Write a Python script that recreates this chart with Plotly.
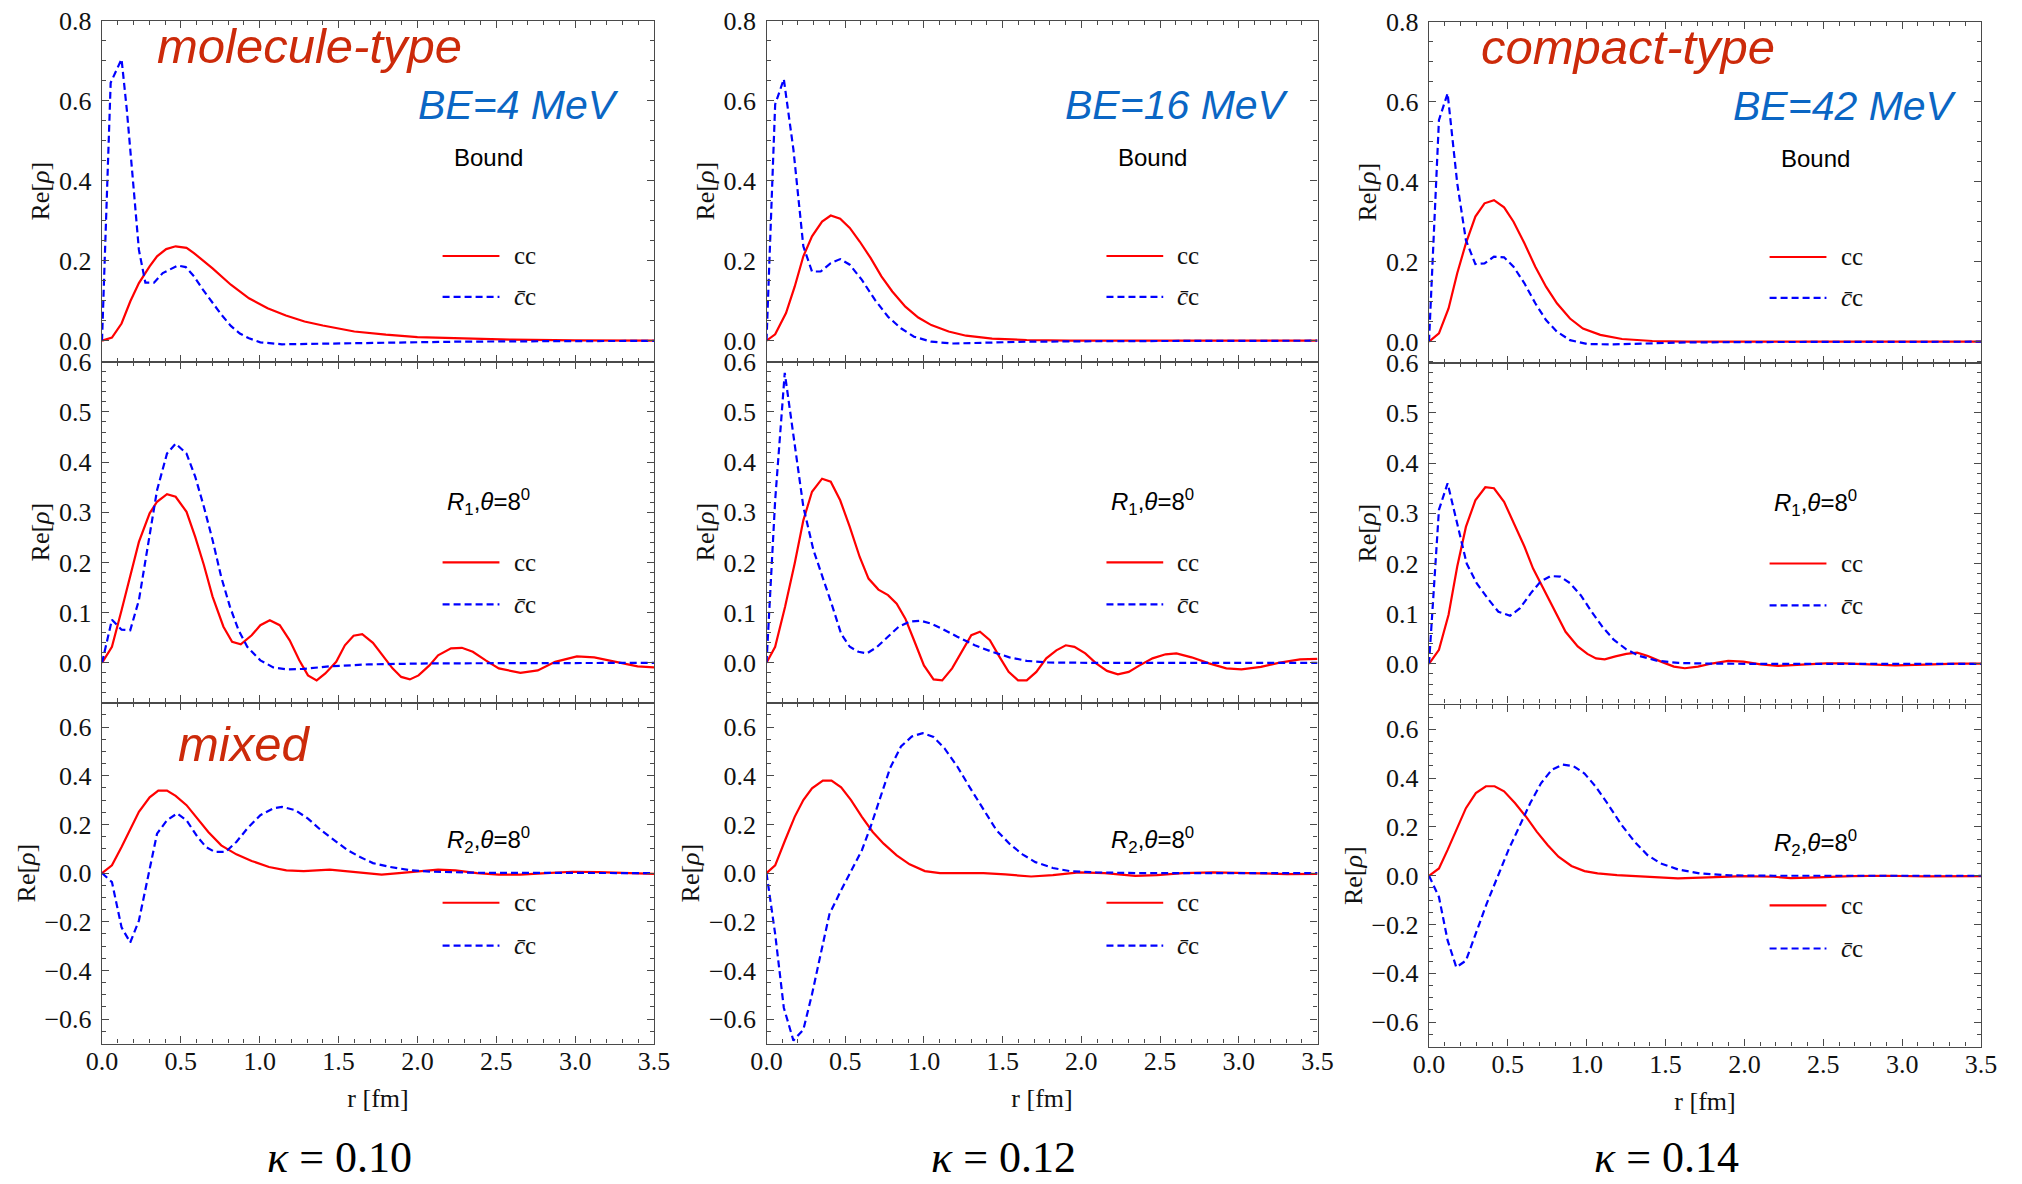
import plotly.graph_objects as go

# ------------------------------------------------------------------
# Data: r [fm] and Re[rho]
# ------------------------------------------------------------------
# kappa = 0.10 -------------------------------------------------------
k10_bound_cc_r = [0, 0.063, 0.124, 0.179, 0.234, 0.302, 0.349, 0.407, 0.467, 0.536, 0.583, 0.701, 0.817,
                  0.932, 1.05, 1.166, 1.284, 1.40, 1.60, 1.80, 2.0, 2.3, 2.6, 3.0, 3.5]
k10_bound_cc = [0, 0.008, 0.043, 0.098, 0.144, 0.186, 0.211, 0.229, 0.236, 0.232, 0.219, 0.181, 0.140,
                0.106, 0.081, 0.063, 0.048, 0.038, 0.023, 0.015, 0.009, 0.005, 0.0025, 0.001, 0.0]
k10_bound_bc_r = [0, 0.055, 0.124, 0.157, 0.192, 0.234, 0.275, 0.330, 0.385, 0.481, 0.531, 0.583, 0.641,
                  0.701, 0.759, 0.817, 0.874, 0.932, 1.004, 1.141, 1.279, 1.50, 1.83, 2.24, 2.93, 3.5]
k10_bound_bc = [0, 0.645, 0.704, 0.579, 0.42, 0.227, 0.145, 0.145, 0.169, 0.188, 0.184, 0.161, 0.127,
                0.094, 0.064, 0.037, 0.018, 0.006, -0.004, -0.009, -0.008, -0.006, -0.004, -0.0025, -0.001, -0.0005]

k10_r1_cc_r = [0, 0.063, 0.124, 0.179, 0.234, 0.302, 0.349, 0.412, 0.467, 0.536, 0.591, 0.646, 0.701,
               0.770, 0.825, 0.880, 0.949, 1.004, 1.064, 1.127, 1.190, 1.251, 1.306, 1.361, 1.416, 1.485,
               1.540, 1.595, 1.650, 1.718, 1.787, 1.842, 1.897, 1.952, 2.007, 2.076, 2.131, 2.213, 2.282,
               2.351, 2.433, 2.516, 2.653, 2.763, 2.873, 3.011, 3.121, 3.258, 3.396, 3.5]
k10_r1_cc = [0, 0.032, 0.105, 0.171, 0.241, 0.298, 0.321, 0.336, 0.331, 0.301, 0.251, 0.195, 0.132,
             0.072, 0.042, 0.037, 0.055, 0.075, 0.085, 0.075, 0.045, 0.005, -0.025, -0.035, -0.021, 0.002,
             0.035, 0.054, 0.057, 0.040, 0.012, -0.011, -0.028, -0.033, -0.025, -0.005, 0.015, 0.029, 0.030,
             0.022, 0.005, -0.011, -0.020, -0.015, 0.002, 0.013, 0.011, 0.002, -0.007, -0.009]
k10_r1_bc_r = [0, 0.063, 0.124, 0.179, 0.234, 0.302, 0.349, 0.412, 0.467, 0.536, 0.591, 0.646, 0.701,
               0.756, 0.811, 0.866, 0.921, 1.004, 1.086, 1.169, 1.279, 1.444, 1.69, 2.10, 3.5]
k10_r1_bc = [0, 0.086, 0.066, 0.065, 0.125, 0.251, 0.344, 0.417, 0.437, 0.417, 0.371, 0.311, 0.245,
             0.171, 0.112, 0.065, 0.032, 0.005, -0.009, -0.013, -0.012, -0.007, -0.003, -0.001, 0]

k10_r2_cc_r = [0, 0.063, 0.124, 0.179, 0.234, 0.302, 0.357, 0.412, 0.467, 0.536, 0.605, 0.674, 0.756,
               0.852, 0.949, 1.059, 1.169, 1.279, 1.444, 1.553, 1.663, 1.773, 1.883, 1.993, 2.131, 2.241,
               2.378, 2.516, 2.653, 2.818, 2.983, 3.148, 3.313, 3.5]
k10_r2_cc = [0, 0.032, 0.107, 0.183, 0.252, 0.311, 0.339, 0.339, 0.317, 0.279, 0.224, 0.169, 0.114,
             0.077, 0.050, 0.025, 0.011, 0.008, 0.014, 0.008, 0.0, -0.006, 0.0, 0.0055, 0.014, 0.011,
             0.0, -0.006, -0.006, 0.0, 0.0055, 0.004, 0.0, -0.003]
k10_r2_bc_r = [0, 0.063, 0.124, 0.179, 0.234, 0.302, 0.349, 0.412, 0.476, 0.536, 0.605, 0.660, 0.715,
               0.784, 0.852, 0.921, 1.004, 1.086, 1.141, 1.224, 1.306, 1.389, 1.471, 1.553, 1.636, 1.718,
               1.828, 1.966, 2.103, 2.378, 3.5]
k10_r2_bc = [0, -0.037, -0.223, -0.285, -0.195, 0.025, 0.162, 0.217, 0.245, 0.217, 0.149, 0.107, 0.087,
             0.087, 0.128, 0.183, 0.238, 0.266, 0.272, 0.259, 0.224, 0.176, 0.135, 0.096, 0.066, 0.041,
             0.025, 0.011, 0.0055, 0.0014, 0]

# kappa = 0.12 -------------------------------------------------------
k12_bound_cc_r = [0, 0.055, 0.124, 0.179, 0.234, 0.289, 0.353, 0.408, 0.468, 0.529, 0.592, 0.661, 0.730,
                  0.799, 0.882, 0.964, 1.047, 1.157, 1.268, 1.433, 1.653, 1.929, 3.5]
k12_bound_cc = [0, 0.016, 0.069, 0.135, 0.211, 0.261, 0.298, 0.313, 0.305, 0.282, 0.248, 0.207, 0.161,
                0.123, 0.085, 0.058, 0.039, 0.023, 0.0125, 0.005, 0.0017, 0, 0]
k12_bound_bc_r = [0, 0.055, 0.110, 0.171, 0.234, 0.289, 0.344, 0.408, 0.468, 0.529, 0.606, 0.689, 0.772,
                  0.854, 0.937, 1.047, 1.185, 1.378, 1.653, 2.204, 3.5]
k12_bound_bc = [0, 0.591, 0.654, 0.478, 0.236, 0.173, 0.173, 0.194, 0.204, 0.190, 0.152, 0.102, 0.060,
                0.031, 0.010, -0.0025, -0.007, -0.005, -0.0025, -0.001, 0]

k12_r1_cc_r = [0, 0.055, 0.118, 0.179, 0.234, 0.289, 0.353, 0.408, 0.468, 0.529, 0.592, 0.648, 0.711,
               0.772, 0.827, 0.882, 0.937, 1.000, 1.061, 1.116, 1.179, 1.240, 1.301, 1.356, 1.419, 1.480,
               1.538, 1.598, 1.653, 1.714, 1.777, 1.841, 1.901, 1.956, 2.025, 2.094, 2.163, 2.232, 2.301,
               2.370, 2.452, 2.535, 2.604, 2.700, 2.811, 2.921, 3.017, 3.141, 3.252, 3.389, 3.5]
k12_r1_cc = [0, 0.032, 0.112, 0.198, 0.284, 0.341, 0.367, 0.361, 0.324, 0.271, 0.211, 0.168, 0.146,
             0.135, 0.118, 0.088, 0.045, -0.005, -0.033, -0.035, -0.011, 0.022, 0.055, 0.062, 0.045, 0.012,
             -0.018, -0.035, -0.035, -0.018, 0.009, 0.025, 0.035, 0.032, 0.019, -0.001, -0.016, -0.023, -0.018,
             -0.005, 0.009, 0.017, 0.019, 0.011, -0.001, -0.011, -0.013, -0.008, 0.0, 0.007, 0.008]
k12_r1_bc_r = [0, 0.055, 0.116, 0.171, 0.234, 0.298, 0.358, 0.413, 0.474, 0.529, 0.584, 0.639, 0.703,
               0.772, 0.840, 0.909, 0.978, 1.047, 1.116, 1.212, 1.323, 1.433, 1.543, 1.653, 1.791, 2.067, 3.5]
k12_r1_bc = [0, 0.324, 0.578, 0.457, 0.311, 0.225, 0.171, 0.118, 0.058, 0.032, 0.022, 0.019, 0.032,
             0.052, 0.072, 0.082, 0.084, 0.078, 0.068, 0.052, 0.035, 0.022, 0.011, 0.004, 0.0007, 0, 0]

k12_r2_cc_r = [0, 0.055, 0.118, 0.179, 0.234, 0.289, 0.358, 0.413, 0.474, 0.537, 0.606, 0.675, 0.744,
               0.827, 0.909, 1.006, 1.102, 1.212, 1.378, 1.516, 1.681, 1.819, 1.984, 2.149, 2.342, 2.480,
               2.645, 2.838, 3.031, 3.307, 3.5]
k12_r2_cc = [0, 0.032, 0.135, 0.231, 0.30, 0.348, 0.380, 0.380, 0.352, 0.30, 0.231, 0.169, 0.121,
             0.073, 0.036, 0.0083, 0, 0, 0, -0.0055, -0.014, -0.008, 0.003, 0, -0.011, -0.008,
             0, 0.003, 0, -0.004, -0.003]
k12_r2_bc_r = [0, 0.055, 0.110, 0.171, 0.234, 0.289, 0.344, 0.400, 0.468, 0.537, 0.606, 0.661, 0.722,
               0.785, 0.854, 0.923, 0.992, 1.061, 1.130, 1.212, 1.295, 1.378, 1.461, 1.543, 1.626, 1.708,
               1.819, 1.929, 2.094, 2.342, 3.5]
k12_r2_bc = [0, -0.250, -0.553, -0.688, -0.643, -0.498, -0.333, -0.168, -0.078, 0.011, 0.094, 0.190, 0.307,
             0.431, 0.520, 0.561, 0.575, 0.559, 0.513, 0.438, 0.348, 0.259, 0.176, 0.121, 0.077, 0.045,
             0.021, 0.008, 0.003, 0, 0]

# kappa = 0.14 -------------------------------------------------------
k14_bound_cc_r = [0, 0.063, 0.124, 0.179, 0.234, 0.294, 0.352, 0.412, 0.476, 0.536, 0.605, 0.674, 0.742,
                  0.811, 0.894, 0.976, 1.086, 1.224, 1.416, 1.636, 3.5]
k14_bound_cc = [0, 0.021, 0.083, 0.171, 0.246, 0.313, 0.346, 0.354, 0.336, 0.30, 0.246, 0.1875, 0.1375,
                0.096, 0.058, 0.033, 0.017, 0.0067, 0.0017, 0, 0]
k14_bound_bc_r = [0, 0.063, 0.118, 0.179, 0.234, 0.294, 0.352, 0.412, 0.476, 0.536, 0.605, 0.674, 0.742,
                  0.811, 0.894, 1.004, 1.169, 1.361, 1.636, 2.186, 3.5]
k14_bound_bc = [0, 0.554, 0.621, 0.396, 0.254, 0.194, 0.196, 0.2125, 0.211, 0.1875, 0.146, 0.096, 0.054,
                0.025, 0.004, -0.006, -0.0067, -0.004, -0.0017, -0.0008, 0]

k14_r1_cc_r = [0, 0.063, 0.124, 0.179, 0.234, 0.294, 0.357, 0.412, 0.476, 0.536, 0.605, 0.660, 0.729,
               0.797, 0.866, 0.943, 1.004, 1.059, 1.114, 1.182, 1.251, 1.320, 1.388, 1.471, 1.553, 1.622,
               1.705, 1.801, 1.897, 1.993, 2.103, 2.213, 2.351, 2.516, 2.626, 2.791, 2.956, 3.148, 3.341, 3.5]
k14_r1_cc = [0, 0.028, 0.098, 0.194, 0.273, 0.326, 0.352, 0.350, 0.323, 0.280, 0.234, 0.190, 0.147,
             0.104, 0.064, 0.035, 0.020, 0.011, 0.009, 0.015, 0.020, 0.0226, 0.016, 0.0046, -0.0053, -0.0086,
             -0.0053, 0.0013, 0.006, 0.0046, -0.0007, -0.004, -0.002, 0.0013, 0.0013, -0.0013, -0.0027,
             -0.0013, 0.0007, 0.0007]
k14_r1_bc_r = [0, 0.063, 0.118, 0.179, 0.239, 0.302, 0.371, 0.440, 0.514, 0.577, 0.646, 0.707, 0.770,
               0.833, 0.894, 0.962, 1.031, 1.100, 1.169, 1.251, 1.334, 1.443, 1.581, 1.773, 2.186, 3.5]
k14_r1_bc = [0, 0.307, 0.360, 0.280, 0.200, 0.161, 0.131, 0.104, 0.096, 0.111, 0.141, 0.164, 0.175,
             0.174, 0.161, 0.137, 0.104, 0.074, 0.049, 0.029, 0.016, 0.0066, 0.002, 0.0007, 0, 0]

k14_r2_cc_r = [0, 0.063, 0.118, 0.173, 0.234, 0.297, 0.361, 0.416, 0.476, 0.545, 0.614, 0.683, 0.752,
               0.821, 0.903, 0.986, 1.069, 1.192, 1.358, 1.578, 1.771, 1.991, 2.184, 2.294, 2.459, 2.680,
               2.900, 3.148, 3.5]
k14_r2_cc = [0, 0.030, 0.106, 0.188, 0.277, 0.339, 0.367, 0.367, 0.346, 0.298, 0.243, 0.181, 0.126,
             0.078, 0.040, 0.019, 0.0096, 0.0027, -0.004, -0.011, -0.0069, -0.0014, -0.004, -0.0096, -0.0069,
             -0.0014, 0, -0.0027, -0.0014]
k14_r2_bc_r = [0, 0.063, 0.118, 0.173, 0.234, 0.297, 0.366, 0.435, 0.504, 0.573, 0.642, 0.711, 0.779,
               0.848, 0.917, 0.986, 1.055, 1.137, 1.220, 1.303, 1.385, 1.468, 1.578, 1.716, 1.909, 2.184, 3.5]
k14_r2_bc = [0, -0.087, -0.265, -0.375, -0.348, -0.238, -0.114, -0.004, 0.106, 0.202, 0.298, 0.380, 0.435,
             0.456, 0.449, 0.419, 0.367, 0.291, 0.209, 0.140, 0.085, 0.051, 0.026, 0.0096, 0.0014, 0, 0]

# Labels
kappa_labels = ["0.10", "0.12", "0.14"]
row_labels = ["Bound", "<i>R</i><sub>1</sub>,<i>θ</i>=8<sup>0</sup>", "<i>R</i><sub>2</sub>,<i>θ</i>=8<sup>0</sup>"]
be_labels = ["BE=4 MeV", "BE=16 MeV", "BE=42 MeV"]
series_names = ["cc", "<i>c\u0304</i>c"]

panels = [
    [(k10_bound_cc_r, k10_bound_cc, k10_bound_bc_r, k10_bound_bc),
     (k10_r1_cc_r, k10_r1_cc, k10_r1_bc_r, k10_r1_bc),
     (k10_r2_cc_r, k10_r2_cc, k10_r2_bc_r, k10_r2_bc)],
    [(k12_bound_cc_r, k12_bound_cc, k12_bound_bc_r, k12_bound_bc),
     (k12_r1_cc_r, k12_r1_cc, k12_r1_bc_r, k12_r1_bc),
     (k12_r2_cc_r, k12_r2_cc, k12_r2_bc_r, k12_r2_bc)],
    [(k14_bound_cc_r, k14_bound_cc, k14_bound_bc_r, k14_bound_bc),
     (k14_r1_cc_r, k14_r1_cc, k14_r1_bc_r, k14_r1_bc),
     (k14_r2_cc_r, k14_r2_cc, k14_r2_bc_r, k14_r2_bc)],
]

# ------------------------------------------------------------------
# Layout geometry (pixels in a 2022 x 1184 canvas)
# ------------------------------------------------------------------
W, H = 2022, 1184
col_px = [(102, 654), (766.5, 1317.5), (1429, 1981)]
row_px = [
    [(20.7, 361.7), (361.7, 702.5), (702.7, 1043.5)],
    [(20.7, 361.7), (361.7, 702.5), (702.7, 1043.5)],
    [(21.7, 362.7), (362.7, 703.6), (705.0, 1046.5)],
]
y_ranges = [[-0.0525, 0.8001], [-0.079, 0.6001], [-0.70, 0.70]]
y_dtick = [0.2, 0.1, 0.2]
y_minor = [0.05, 0.02, 0.05]

SERIF = "Liberation Serif, Times New Roman, serif"
SANS = "Liberation Sans, Arial, sans-serif"
RED = "#FF0000"
BLUE = "#0000FF"
FRAME = "#4a4a4a"
TICKFONT = dict(family=SERIF, size=26, color="#111")

fig = go.Figure()
layout = dict(
    width=W, height=H, margin=dict(l=0, r=0, t=0, b=0, autoexpand=False),
    paper_bgcolor="white", plot_bgcolor="white", showlegend=False,
)
annotations = []
shapes = []

for c in range(3):
    for r in range(3):
        idx = c * 3 + r + 1
        xs = "" if idx == 1 else str(idx)
        cc_r, cc_v, bc_r, bc_v = panels[c][r]
        fig.add_trace(go.Scatter(x=cc_r, y=cc_v, mode="lines", name="cc",
                                 line=dict(color=RED, width=2.2),
                                 xaxis="x" + xs, yaxis="y" + xs))
        fig.add_trace(go.Scatter(x=bc_r, y=bc_v, mode="lines", name="c\u0304c",
                                 line=dict(color=BLUE, width=2.2, dash="7px,4px"),
                                 xaxis="x" + xs, yaxis="y" + xs))
        x0, x1 = col_px[c]
        yt, yb = row_px[c][r]
        bottom = (r == 2)
        xa = dict(
            domain=[x0 / W, x1 / W], anchor="y" + xs, range=[0, 3.5], automargin=False,
            tickmode="linear", tick0=0, dtick=0.5, tickformat=".1f",
            ticks="inside", ticklen=7, tickwidth=1.2, tickcolor=FRAME,
            minor=dict(dtick=0.1, ticks="inside", ticklen=4, tickwidth=1, tickcolor=FRAME),
            showline=True, linecolor=FRAME, linewidth=1.4, mirror="allticks",
            showgrid=False, zeroline=False, showticklabels=bottom,
            tickfont=TICKFONT, ticklabelstandoff=-6,
        )
        if bottom:
            xa["title"] = dict(text="r [fm]", font=dict(family=SERIF, size=26, color="#111"), standoff=13)
        layout["xaxis" + xs] = xa
        layout["yaxis" + xs] = dict(
            domain=[1 - yb / H, 1 - yt / H], anchor="x" + xs, range=y_ranges[r], automargin=False,
            tickmode="linear", tick0=0, dtick=y_dtick[r], tickformat=".1f",
            ticks="inside", ticklen=7, tickwidth=1.2, tickcolor=FRAME,
            minor=dict(dtick=y_minor[r], ticks="inside", ticklen=4, tickwidth=1, tickcolor=FRAME),
            showline=True, linecolor=FRAME, linewidth=1.4, mirror="allticks",
            showgrid=False, zeroline=False,
            tickfont=TICKFONT, ticklabelstandoff=4,
            title=dict(text="Re[<i>ρ</i>]", font=dict(family=SERIF, size=26, color="#111"), standoff=1),
        )
        xd, yd = "x" + xs + " domain", "y" + xs + " domain"
        # legend keys
        leg_y = [(0.31, 0.19), (0.411, 0.288), (0.413, 0.287)][r]
        for k, (col, dash) in enumerate([(RED, "solid"), (BLUE, "7px,4px")]):
            shapes.append(dict(type="line", xref=xd, yref=yd, x0=0.617, x1=0.72,
                               y0=leg_y[k], y1=leg_y[k], line=dict(color=col, width=2.2, dash=dash)))
            annotations.append(dict(xref=xd, yref=yd, x=0.742, y=leg_y[k], text=series_names[k],
                                    showarrow=False, xanchor="left", yanchor="middle",
                                    font=dict(family=SERIF, size=25, color="#111")))
        # row label
        lab_y = [0.60, 0.589, 0.597][r]
        annotations.append(dict(xref=xd, yref=yd, x=0.70, y=lab_y, text=row_labels[r], showarrow=False,
                                xanchor="center", yanchor="middle",
                                font=dict(family=SANS, size=24, color="#000")))
    # BE label
    be_x = [0.754, 0.745, 0.754][c]
    ys = "" if c == 0 else str(c * 3 + 1)
    annotations.append(dict(xref="x" + ys + " domain", yref="y" + ys + " domain", x=be_x, y=0.753,
                            text="<i>" + be_labels[c] + "</i>", showarrow=False,
                            xanchor="center", yanchor="middle",
                            font=dict(family=SANS, size=41, color="#0A66C4")))
    # kappa label
    annotations.append(dict(xref="x" + ys + " domain", yref="paper", x=0.431, y=1 - 1157 / H,
                            text="<i>κ</i> = " + kappa_labels[c], showarrow=False,
                            xanchor="center", yanchor="middle",
                            font=dict(family=SERIF, size=44, color="#000")))

# type labels
annotations.append(dict(xref="x domain", yref="y domain", x=0.375, y=0.926, text="<i>molecule-type</i>",
                        showarrow=False, xanchor="center", yanchor="middle",
                        font=dict(family=SANS, size=49, color="#CC2A0A")))
annotations.append(dict(xref="x7 domain", yref="y7 domain", x=0.361, y=0.926, text="<i>compact-type</i>",
                        showarrow=False, xanchor="center", yanchor="middle",
                        font=dict(family=SANS, size=49, color="#CC2A0A")))
annotations.append(dict(xref="x3 domain", yref="y3 domain", x=0.257, y=0.879, text="<i>mixed</i>",
                        showarrow=False, xanchor="center", yanchor="middle",
                        font=dict(family=SANS, size=49, color="#CC2A0A")))

layout["annotations"] = annotations
layout["shapes"] = shapes
fig.update_layout(**layout)
fig.write_html("out.html")
